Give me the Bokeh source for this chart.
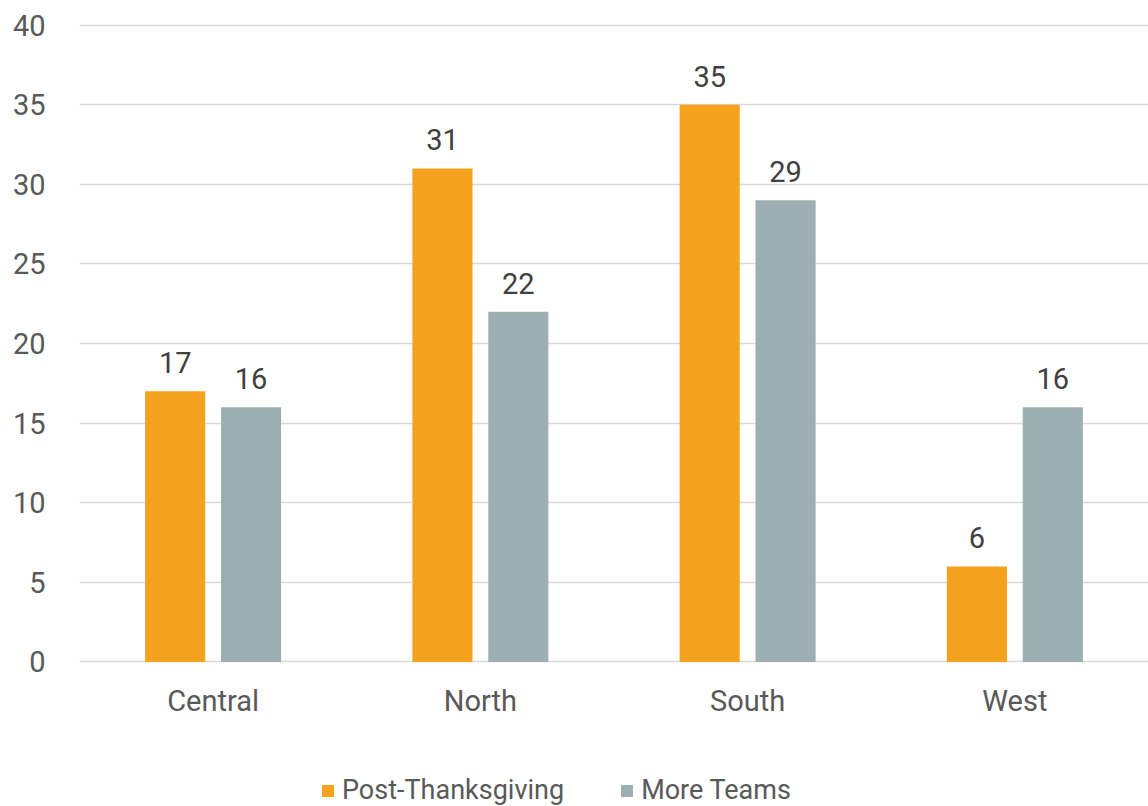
from bokeh.plotting import figure
from bokeh.layouts import column
from bokeh.models import (FactorRange, Range1d, FixedTicker, Legend, LegendItem,
                          ColumnDataSource, LabelSet)
from bokeh.core.properties import value
from bokeh.transform import dodge
from bokeh.embed import file_html
from bokeh.resources import INLINE

categories = ["Central", "North", "South", "West"]
post_thanksgiving = [17, 31, 35, 6]
more_teams = [16, 22, 29, 16]
y_ticks = [0, 5, 10, 15, 20, 25, 30, 35, 40]
series_names = ["Post-Thanksgiving", "More Teams"]

FONT = "Roboto"
ORANGE = "#F5A31E"
GREY = "#9EAFB4"
TEXT = "#595959"

src = ColumnDataSource(dict(cat=categories, a=post_thanksgiving, b=more_teams,
                            at=[str(v) for v in post_thanksgiving],
                            bt=[str(v) for v in more_teams]))

p = figure(x_range=FactorRange(*categories, range_padding=0), y_range=Range1d(-0.1, 40.1),
           frame_width=1069, frame_height=640, output_backend="svg", toolbar_location=None,
           min_border_left=79, min_border_right=0, min_border_top=23, min_border_bottom=103)

r1 = p.vbar(x=dodge("cat", -0.142, range=p.x_range), top="a", width=0.225, source=src,
            color=ORANGE, line_color=None)
r2 = p.vbar(x=dodge("cat", 0.142, range=p.x_range), top="b", width=0.225, source=src,
            color=GREY, line_color=None)

for col, txt, off in (("a", "at", -0.142), ("b", "bt", 0.142)):
    labels = LabelSet(x=dodge("cat", off, range=p.x_range), y=col, text=txt, source=src,
                      text_align="center", text_baseline="bottom", y_offset=18,
                      text_font=value(FONT), text_font_size="29px", text_color="#404040")
    p.add_layout(labels)

p.outline_line_color = None
p.xgrid.grid_line_color = None
p.ygrid.grid_line_color = "#D9D9D9"
p.ygrid.grid_line_width = 1.5
p.yaxis.ticker = FixedTicker(ticks=y_ticks)

for ax in (p.xaxis[0], p.yaxis[0]):
    ax.axis_line_color = None
    ax.major_tick_line_color = None
    ax.minor_tick_line_color = None
    ax.major_tick_out = 0
    ax.major_tick_in = 0
    ax.major_label_text_font = FONT
    ax.major_label_text_font_size = "29px"
    ax.major_label_text_color = TEXT
p.yaxis.major_label_standoff = 34
p.xaxis.major_label_standoff = 20

# Legend strip below the chart (its frame is aligned with the chart's frame)
pl = figure(width=1148, height=40, x_range=Range1d(0, 1), y_range=Range1d(0, 1),
            output_backend="svg", toolbar_location=None,
            x_axis_location=None, y_axis_location=None, min_border=0)
pl.grid.grid_line_color = None
pl.outline_line_color = None
l1 = pl.vbar(x=[0.5], top=[0], bottom=0, width=0.1, color=ORANGE, line_color=None)
l2 = pl.vbar(x=[0.5], top=[0], bottom=0, width=0.1, color=GREY, line_color=None)

legend = Legend(items=[LegendItem(label=series_names[0], renderers=[l1]),
                       LegendItem(label=series_names[1], renderers=[l2])],
                orientation="horizontal", location=(241, 0),
                glyph_width=15, glyph_height=15, spacing=55, label_standoff=7,
                label_text_font=FONT, label_text_font_size="27px", label_text_color=TEXT,
                border_line_color=None, background_fill_alpha=0, padding=0, margin=0)
pl.add_layout(legend)

layout = column(p, pl, spacing=0)
open("out.html", "w").write(file_html(layout, INLINE))
